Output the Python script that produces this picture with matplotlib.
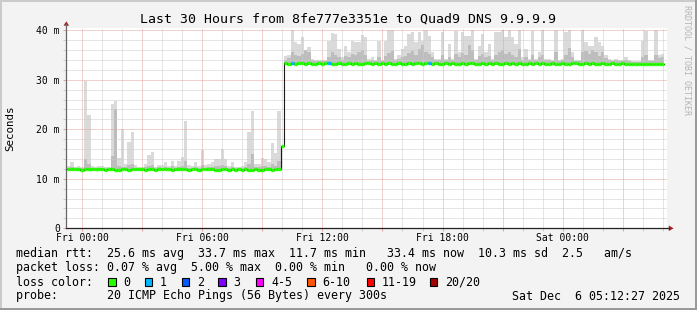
import numpy as np
import pandas as pd
import matplotlib
matplotlib.use("Agg")
import matplotlib.pyplot as plt
import matplotlib.dates as md
from matplotlib.patches import Rectangle, Polygon
from matplotlib.lines import Line2D
from matplotlib.ticker import MultipleLocator, FuncFormatter

# ---- data (10 minute bins starting Thu 23:15) ----
bin_start = "2025-12-04 23:15"
t_start = "2025-12-04 23:12:27"
t_end = "2025-12-06 05:12:27"

median = [
    11.9, 11.9, 12.0, 11.9, 11.8, 11.9, 11.9, 12.0, 12.0, 11.9,
    11.9, 11.8, 11.9, 11.9, 11.7, 11.8, 11.9, 11.9, 11.8, 11.9,
    11.9, 12.0, 11.9, 11.8, 11.9, 11.9, 11.8, 11.9, 12.0, 11.9,
    11.9, 11.8, 11.9, 11.9, 12.0, 11.9, 11.8, 11.9, 11.9, 11.8,
    11.9, 11.9, 12.0, 11.9, 11.8, 11.8, 11.9, 11.9, 11.8, 11.9,
    11.8, 11.9, 11.8, 11.9, 11.7, 11.8, 11.9, 11.8, 11.8, 11.9,
    11.9, 11.8, 11.9, 11.9, 16.7, 33.3, 33.2, 33.3, 33.2, 33.3,
    33.3, 33.2, 33.3, 33.2, 33.2, 33.3, 33.2, 33.3, 33.3, 33.2,
    33.2, 33.3, 33.2, 33.2, 33.3, 33.2, 33.3, 33.2, 33.2, 33.3,
    33.3, 33.2, 33.3, 33.2, 33.3, 33.2, 33.3, 33.2, 33.2, 33.3,
    33.2, 33.2, 33.3, 33.2, 33.3, 33.3, 33.2, 33.3, 33.3, 33.2,
    33.3, 33.2, 33.2, 33.3, 33.2, 33.3, 33.2, 33.2, 33.3, 33.2,
    33.3, 33.3, 33.2, 33.2, 33.3, 33.2, 33.3, 33.2, 33.3, 33.2,
    33.2, 33.3, 33.2, 33.3, 33.2, 33.3, 33.2, 33.2, 33.3, 33.2,
    33.3, 33.2, 33.3, 33.2, 33.2, 33.3, 33.2, 33.2, 33.3, 33.2,
    33.2, 33.3, 33.3, 33.2, 33.2, 33.3, 33.2, 33.3, 33.2, 33.2,
    33.3, 33.2, 33.2, 33.3, 33.2, 33.2, 33.3, 33.2, 33.2, 33.1,
    33.2, 33.2, 33.1, 33.2, 33.2, 33.2, 33.1, 33.2, 33.2,
]

smoke_hi = [
    12.6, 13.3, 12.4, 12.6, 12.4, 29.8, 22.8, 12.5, 12.4, 12.6,
    12.6, 12.3, 12.3, 25.0, 25.7, 14.2, 20.0, 13.0, 17.4, 19.5,
    12.8, 12.3, 12.3, 13.0, 14.7, 15.5, 12.4, 12.8, 12.8, 13.4,
    12.6, 13.6, 12.5, 13.5, 14.4, 21.6, 12.8, 12.5, 13.3, 12.5,
    15.9, 12.8, 13.0, 13.4, 14.0, 14.0, 16.0, 14.0, 12.6, 13.3,
    12.4, 12.4, 12.6, 13.3, 19.5, 23.6, 13.0, 13.0, 14.2, 14.0,
    13.3, 17.2, 15.2, 23.6, 16.7, 34.7, 34.9, 40.0, 37.6, 37.2,
    38.6, 36.0, 36.6, 34.2, 33.9, 34.0, 33.9, 34.0, 37.9, 39.5,
    39.2, 36.2, 34.5, 36.9, 35.6, 37.9, 37.6, 37.6, 39.0, 38.6,
    34.2, 34.5, 33.9, 37.9, 33.9, 37.9, 40.0, 40.0, 34.2, 34.9,
    36.2, 36.9, 39.2, 39.6, 37.6, 39.6, 37.9, 40.0, 38.9, 35.6,
    34.2, 34.2, 39.6, 34.2, 37.2, 34.2, 39.9, 35.6, 39.6, 38.9,
    38.9, 40.0, 34.2, 36.9, 39.2, 35.6, 37.2, 34.2, 39.6, 39.6,
    40.0, 38.6, 40.0, 38.6, 37.2, 40.0, 34.5, 36.2, 34.2, 39.9,
    34.2, 35.6, 40.0, 34.2, 34.2, 33.9, 40.0, 33.9, 34.2, 39.6,
    40.0, 35.6, 33.9, 33.9, 40.0, 37.6, 36.9, 36.9, 38.6, 37.6,
    36.9, 34.9, 34.2, 33.9, 34.2, 33.9, 33.9, 34.5, 33.9, 33.7,
    33.7, 33.7, 37.9, 39.9, 33.9, 33.9, 40.0, 34.9, 35.2,
]

smoke_mid = [
    12.2, 12.4, 12.2, 12.2, 12.1, 14.0, 13.0, 12.2, 12.1, 12.2,
    12.2, 12.1, 12.1, 14.5, 24.0, 12.6, 12.4, 12.3, 12.8, 13.0,
    12.2, 12.1, 12.1, 12.3, 12.6, 12.8, 12.1, 12.3, 12.2, 12.4,
    12.2, 12.5, 12.1, 12.4, 12.6, 13.5, 12.2, 12.1, 12.3, 12.1,
    12.8, 12.2, 12.3, 12.4, 12.6, 12.6, 12.8, 12.5, 12.1, 12.3,
    12.1, 12.1, 12.2, 12.4, 13.0, 15.0, 12.3, 12.3, 12.6, 12.5,
    12.4, 13.0, 12.6, 13.5, 16.7, 34.0, 34.3, 35.5, 35.0, 34.8,
    35.2, 36.0, 35.5, 34.0, 33.7, 33.8, 33.7, 33.8, 34.5, 35.5,
    35.0, 34.6, 34.0, 34.8, 34.5, 35.2, 35.0, 35.5, 36.0, 35.0,
    33.8, 34.0, 33.7, 34.6, 33.7, 34.8, 35.4, 35.8, 33.9, 34.2,
    34.6, 34.8, 35.4, 35.8, 35.0, 36.2, 37.0, 35.6, 35.2, 34.5,
    33.9, 33.9, 35.0, 33.9, 34.6, 33.9, 35.2, 34.5, 35.4, 35.0,
    37.0, 36.0, 33.9, 34.8, 35.2, 34.5, 34.8, 33.9, 35.0, 35.5,
    36.0, 35.2, 35.6, 35.0, 34.5, 36.2, 34.0, 34.5, 33.9, 35.0,
    33.9, 34.5, 35.0, 33.9, 33.9, 33.7, 35.5, 33.7, 33.9, 35.0,
    36.5, 34.6, 33.7, 33.7, 35.5, 35.8, 35.2, 36.0, 35.5, 34.8,
    35.5, 34.3, 33.9, 33.7, 33.9, 33.7, 33.7, 34.0, 33.7, 33.5,
    33.5, 33.5, 34.5, 35.0, 33.7, 33.7, 35.0, 34.3, 34.5,
]

# bins with lost pings (out of 20)
loss_time = ["2025-12-05 10:25", "2025-12-05 12:15", "2025-12-05 17:15"]
loss_count = [1, 1, 1]

loss_labels = ["0", "1", "2", "3", "4-5", "6-10", "11-19", "20/20"]
loss_upper = [0, 1, 2, 3, 5, 10, 19, 20]
loss_colors = ["#26ff00", "#00b8ff", "#0059ff", "#7e00ff", "#ff00ff",
               "#ff5500", "#ff0000", "#a10000"]

rtt_stats = [25.6, 33.7, 11.7, 33.4, 10.3]   # avg max min now sd
rtt_am = 2.5
loss_stats = [0.07, 5.00, 0.00, 0.00]         # avg max min now

title = "Last 30 Hours from 8fe777e3351e to Quad9 DNS 9.9.9.9"
probe = "20 ICMP Echo Pings (56 Bytes) every 300s"
stamp = "Sat Dec  6 05:12:27 2025"

# ---- figure ----
W, H = 697, 310
plt.rcParams["font.family"] = "DejaVu Sans Mono"


def fx(px):
    return px / W


def fy(py):
    return 1 - py / H


BG = "#f3f3f3"
GRID = "#cccccc"
MGRID = "#e4a2a2"

fig = plt.figure(figsize=(W / 100, H / 100), dpi=100, facecolor=BG)
x0, x1, ytop, ybot = 66.3, 666.9, 27.7, 228.3
ax = fig.add_axes([fx(x0), fy(ybot), (x1 - x0) / W, (ybot - ytop) / H])
ax.set_facecolor("white")

n = len(median)
edges = md.date2num(pd.date_range(bin_start, periods=n + 1, freq="10min"))
med = np.array(median)
hi = np.array(smoke_hi)
mid = np.array(smoke_mid)

ax.fill_between(edges, np.append(med, med[-1]), np.append(hi, hi[-1]),
                step="post", color="#dadada", lw=0, zorder=1)
ax.fill_between(edges, np.append(med, med[-1]), np.append(mid, mid[-1]),
                step="post", color="#bdbdbd", lw=0, zorder=1.1)

# loss colour per bin
loss = np.zeros(n, dtype=int)
lt = md.date2num(pd.to_datetime(loss_time))
for t, c in zip(lt, loss_count):
    k = np.searchsorted(edges, t + 1e-6) - 1
    loss[k] = c
col_idx = [next(i for i, u in enumerate(loss_upper) if c <= u) for c in loss]
cols = [loss_colors[i] for i in col_idx]

ax.step(edges, np.append(med, med[-1]), where="post", color="#1a1a1a",
        lw=0.8, zorder=3)
ax.hlines(med, edges[:-1], edges[1:], colors=cols, lw=2.4, zorder=4)

ax.set_xlim(md.date2num(pd.Timestamp(t_start)), md.date2num(pd.Timestamp(t_end)))
ax.set_ylim(0, 40.5)

ax.xaxis.set_major_locator(md.HourLocator(byhour=range(0, 24, 3)))
ax.xaxis.set_minor_locator(md.HourLocator())
ax.xaxis.set_major_formatter(FuncFormatter(
    lambda v, p: md.num2date(v).strftime("%a %H:%M") if md.num2date(v).hour % 6 == 0 else ""))
ax.yaxis.set_major_locator(MultipleLocator(10))
ax.yaxis.set_minor_locator(MultipleLocator(2))
ax.yaxis.set_major_formatter(FuncFormatter(lambda v, p: "0" if v == 0 else f"{v:.0f} m"))

ax.set_axisbelow(False)
ax.grid(which="major", color=MGRID, linestyle=(0, (1, 1)), lw=0.72)
ax.grid(which="minor", color=GRID, linestyle=(0, (1, 1)), lw=0.72)
ax.tick_params(which="major", length=2.2, width=0.72, color=MGRID, labelsize=7, pad=2.4)
ax.tick_params(which="minor", length=2.2, width=0.72, color=GRID)
ax.tick_params(axis="x", which="major", pad=1.5)
for s in ax.spines.values():
    s.set_visible(False)

# axes lines + arrows
fig.add_artist(Line2D([fx(x0), fx(x0)], [fy(ybot), fy(24)], color="#666666", lw=0.9))
fig.add_artist(Line2D([fx(x0), fx(669)], [fy(ybot), fy(ybot)], color="#222222", lw=0.9))
fig.add_artist(Polygon([[fx(63.5), fy(25.7)], [fx(69.1), fy(25.7)], [fx(66.3), fy(21.3)]],
                       closed=True, color="#a82020", lw=0))
fig.add_artist(Polygon([[fx(668.8), fy(225.5)], [fx(668.8), fy(231.1)], [fx(673.6), fy(ybot)]],
                       closed=True, color="#a82020", lw=0))

# frame shading
fig.add_artist(Rectangle((0, fy(2)), 1, fy(0) - fy(2), transform=fig.transFigure, color="#cbcbcb", lw=0))
fig.add_artist(Rectangle((0, 0), fx(2), 1, transform=fig.transFigure, color="#cbcbcb", lw=0))
fig.add_artist(Rectangle((0, 0), 1, 1 - fy(2), transform=fig.transFigure, color="#999999", lw=0))
fig.add_artist(Rectangle((fx(695), 0), fx(2), 1, transform=fig.transFigure, color="#999999", lw=0))

# texts
fig.text(fx(348.5), fy(19), title, ha="center", va="center", fontsize=9.5)
fig.text(fx(10), fy((ytop + ybot) / 2), "Seconds", rotation=90, ha="center", va="center", fontsize=7.8)
fig.text(fx(686.7), fy(60), "RRDTOOL / TOBI OETIKER", rotation=-90, ha="center", va="center",
         fontsize=6, color="#b4b4b4")

a, mx, mn, now, sd = rtt_stats
line1 = (f"median rtt:  {a:.1f} ms avg  {mx:.1f} ms max  {mn:.1f} ms min   "
         f"{now:.1f} ms now  {sd:.1f} ms sd  {rtt_am:.1f}   am/s")
la, lm, ln, lnow = loss_stats
line2 = f"packet loss: {la:.2f} % avg  {lm:.2f} % max  {ln:.2f} % min   {lnow:.2f} % now"
fs = 8.4
fig.text(fx(16), fy(253.5), line1, ha="left", va="center", fontsize=fs)
fig.text(fx(16), fy(268), line2, ha="left", va="center", fontsize=fs)
fig.text(fx(16), fy(282), "loss color:", ha="left", va="center", fontsize=fs)
fig.text(fx(16), fy(296), "probe:       " + probe, ha="left", va="center", fontsize=fs)
fig.text(fx(680.5), fy(296), stamp, ha="right", va="center", fontsize=fs)

box_x = [108.3, 145, 181.7, 218.3, 256, 307.3, 366.7, 430]
for bx, lab, c in zip(box_x, loss_labels, loss_colors):
    fig.add_artist(Rectangle((fx(bx), fy(285.5)), 7.4 / W, 7.4 / H, transform=fig.transFigure,
                             facecolor=c, edgecolor="black", lw=0.8))
    fig.text(fx(bx + 15), fy(282), lab, ha="left", va="center", fontsize=fs)

fig.savefig("out.png", dpi=100, facecolor=BG)
